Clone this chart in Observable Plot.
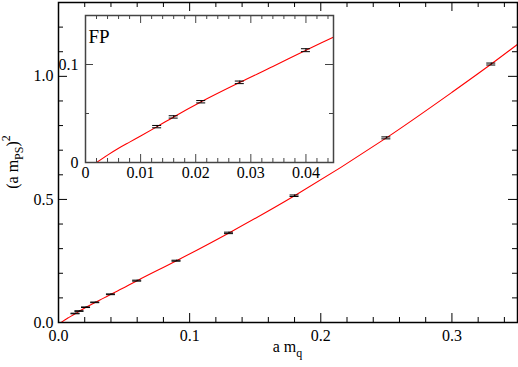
<!DOCTYPE html>
<html><head><meta charset="utf-8">
<script src="https://cdn.jsdelivr.net/npm/d3@7"></script>
<script src="https://cdn.jsdelivr.net/npm/@observablehq/plot@0.6"></script>
<style>
body{margin:0;background:#fff;}
#wrap{position:relative;width:518px;height:367px;}
#main{position:absolute;left:0;top:0;}
#inset{position:absolute;left:40px;top:10px;}
</style></head><body><div id="wrap"><div id="main"></div><div id="inset"></div></div>
<script>
// ---- data ----
const massQ   = [0.013, 0.016, 0.021, 0.028, 0.04, 0.06, 0.09, 0.13, 0.18, 0.25, 0.33];
const mPS2    = [0.0366, 0.0465, 0.062, 0.0818, 0.1146, 0.170, 0.251, 0.364, 0.515, 0.750, 1.050];
const mPS2Err = [0.0012, 0.0012, 0.0012, 0.0013, 0.0015, 0.002, 0.002, 0.003, 0.003, 0.004, 0.004];
const fitX = [0.002, 0.004, 0.006, 0.008, 0.010, 0.013, 0.016, 0.021, 0.028, 0.034, 0.04, 0.045, 0.06, 0.09, 0.13, 0.18, 0.25, 0.30, 0.33, 0.35];
const fitY = [0.0, 0.0075, 0.0145, 0.0208, 0.027, 0.0366, 0.0465, 0.062, 0.0818, 0.098, 0.1146, 0.128, 0.170, 0.251, 0.364, 0.515, 0.750, 0.935, 1.050, 1.13];
const mainXMajor = [0, 0.1, 0.2, 0.3];
const mainXMinor = [0.02, 0.04, 0.06, 0.08, 0.12, 0.14, 0.16, 0.18, 0.22, 0.24, 0.26, 0.28, 0.32, 0.34];
const mainYMajor = [0, 0.5, 1.0];
const mainYMinor = [0.1, 0.2, 0.3, 0.4, 0.6, 0.7, 0.8, 0.9, 1.1, 1.2];
const insetXMajor = [0, 0.01, 0.02, 0.03, 0.04];
const insetXMinor = [0.002, 0.004, 0.006, 0.008, 0.012, 0.014, 0.016, 0.018, 0.022, 0.024, 0.026, 0.028, 0.032, 0.034, 0.036, 0.038, 0.042, 0.044];
const insetYMajor = [0, 0.1];
const insetYMinor = [0.05];
const insetLabel = "FP";

const points = massQ.map((x, i) => ({x, y: mPS2[i], e: mPS2Err[i]}));
const fit = fitX.map((x, i) => ({x, y: fitY[i]}));
const font = "Liberation Serif";

function frameTicks(xMaj, xMin, yMaj, yMin, iw, ih, maj, mn, color) {
  const o = {stroke: color, strokeWidth: 1};
  return [
    Plot.tickX(xMaj, {x: d => d, insetTop: ih - maj, ...o}),
    Plot.tickX(xMaj, {x: d => d, insetBottom: ih - maj, ...o}),
    Plot.tickX(xMin, {x: d => d, insetTop: ih - mn, ...o}),
    Plot.tickX(xMin, {x: d => d, insetBottom: ih - mn, ...o}),
    Plot.tickY(yMaj, {y: d => d, insetRight: iw - maj, ...o}),
    Plot.tickY(yMaj, {y: d => d, insetLeft: iw - maj, ...o}),
    Plot.tickY(yMin, {y: d => d, insetRight: iw - mn, ...o}),
    Plot.tickY(yMin, {y: d => d, insetLeft: iw - mn, ...o})
  ];
}
function errMarks(data) {
  return [
    Plot.ruleX(data, {x: "x", y1: d => d.y - d.e, y2: d => d.y + d.e, stroke: "#000", strokeWidth: 1}),
    Plot.ruleY(data, {y: d => d.y - d.e, x1: "x", x2: "x", insetLeft: -4.5, insetRight: -4.5, stroke: "#000", strokeWidth: 1}),
    Plot.ruleY(data, {y: d => d.y + d.e, x1: "x", x2: "x", insetLeft: -4.5, insetRight: -4.5, stroke: "#000", strokeWidth: 1})
  ];
}

// ---- main chart ----
const W = 518, H = 367, mL = 58, mR = 1, mT = 2, mB = 45;
const iw = W - mL - mR, ih = H - mT - mB;
const main = Plot.plot({
  width: W, height: H, marginLeft: mL, marginRight: mR, marginTop: mT, marginBottom: mB,
  style: {fontFamily: font, fontSize: "15px", background: "transparent", color: "#000"},
  x: {domain: [0, 0.35]},
  y: {domain: [0, 1.3]},
  marks: [
    Plot.line(fit, {x: "x", y: "y", stroke: "#ff0000", strokeWidth: 1.1, clip: true, curve: "monotone-x"}),
    ...errMarks(points),
    ...frameTicks(mainXMajor, mainXMinor, mainYMajor, mainYMinor, iw, ih, 9, 5, "#000"),
    Plot.frame({stroke: "#000", strokeWidth: 1.5}),
    Plot.axisX(mainXMajor, {tickSize: 0, tickPadding: 7, tickFormat: d3.format(".1f"), fontSize: 16, fontFamily: font, label: null}),
    Plot.axisY(mainYMajor, {tickSize: 0, tickPadding: 5, tickFormat: d3.format(".1f"), fontSize: 16, fontFamily: font, label: null})
  ]
});
document.getElementById("main").appendChild(main);
const ms = d3.select(main);
const xl = ms.append("text").attr("x", mL + iw / 2).attr("y", 352).attr("text-anchor", "middle")
  .attr("font-size", 16).attr("fill", "#000");
xl.append("tspan").text("a m");
xl.append("tspan").attr("font-size", 12).attr("dy", 5).text("q");
const yl = ms.append("text").attr("transform", `translate(18,${mT + ih / 2}) rotate(-90)`).attr("text-anchor", "middle")
  .attr("font-size", 16).attr("fill", "#000");
yl.append("tspan").text("(a m");
yl.append("tspan").attr("font-size", 12).attr("dy", 5).text("PS");
yl.append("tspan").attr("dy", -5).text(")");
yl.append("tspan").attr("font-size", 12).attr("dy", -8).text("2");
ms.selectAll("text").attr("font-family", font).style("font-family", font);

// ---- inset chart ----
const IW = 300, IH = 175, imL = 45, imR = 7, imT = 5, imB = 23;
const iiw = IW - imL - imR, iih = IH - imT - imB;
const inset = Plot.plot({
  width: IW, height: IH, marginLeft: imL, marginRight: imR, marginTop: imT, marginBottom: imB,
  style: {fontFamily: font, fontSize: "16px", background: "transparent", color: "#000"},
  x: {domain: [0, 0.045]},
  y: {domain: [0, 0.15]},
  marks: [
    Plot.frame({fill: "#fff"}),
    Plot.line(fit, {x: "x", y: "y", stroke: "#ff0000", strokeWidth: 1.1, clip: true, curve: "monotone-x"}),
    ...errMarks(points.filter(d => d.x <= 0.045)),
    ...frameTicks(insetXMajor, insetXMinor, insetYMajor, insetYMinor, iiw, iih, 8, 4, "#444"),
    Plot.frame({stroke: "#444", strokeWidth: 1.5}),
    Plot.text([insetLabel], {frameAnchor: "top-left", dx: 3, dy: 14, fontSize: 19, fontFamily: font, fill: "#000"}),
    Plot.axisX(insetXMajor, {tickSize: 0, tickPadding: 4, tickFormat: d => d === 0 ? "0" : String(d), fontSize: 16, fontFamily: font, label: null}),
    Plot.axisY(insetYMajor, {tickSize: 0, tickPadding: 7, tickFormat: d => d === 0 ? "0" : String(d), fontSize: 16, fontFamily: font, label: null})
  ]
});
document.getElementById("inset").appendChild(inset);
d3.select(inset).selectAll("text").attr("font-family", font).style("font-family", font);
</script></body></html>
